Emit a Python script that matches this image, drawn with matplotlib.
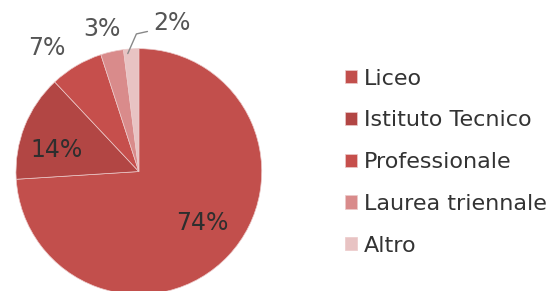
import numpy as np
import matplotlib
matplotlib.use("Agg")
from matplotlib import pyplot as plt

labels = ["Liceo", "Istituto Tecnico", "Professionale", "Laurea triennale", "Altro"]
values = [74, 14, 7, 3, 2]
colors = ["#c24f4c", "#b24644", "#c64f4c", "#d98b8b", "#e8c3c3"]
pct_text = ["74%", "14%", "7%", "3%", "2%"]

fig = plt.figure(figsize=(5.51, 2.91), dpi=100)
ax = fig.add_axes([0.029, -0.012, 0.446, 0.845])

wedges, _ = ax.pie(values, colors=colors, startangle=90, counterclock=False,
                   wedgeprops=dict(linewidth=0.5, edgecolor="#eccaca"))
ax.set_xlim(-1, 1)
ax.set_ylim(-1, 1)
ax.set_aspect("equal")

# label placement: radius and optional angle shift (deg)
dist = [0.665, 0.69, 1.25, 1.2, 1.24]
shift = [4.6, 7, 6, 2, -16]
tcol = ["#2e2e2e", "#2e2e2e", "#555555", "#555555", "#555555"]
for i, w in enumerate(wedges):
    ang = np.deg2rad((w.theta1 + w.theta2) / 2 + shift[i])
    x, y = dist[i] * np.cos(ang), dist[i] * np.sin(ang)
    ax.text(x, y, pct_text[i], ha="center", va="center", fontsize=17,
            color=tcol[i], clip_on=False)

# leader line for the small slice
w = wedges[4]
a0 = np.deg2rad((w.theta1 + w.theta2) / 2 - 3)
p0 = (0.99 * np.cos(a0), 0.99 * np.sin(a0))
ax.plot([p0[0] - 0.08, -0.02, 0.07], [p0[1] - 0.03, 1.12, 1.14],
        color="#888888", lw=1, clip_on=False, solid_capstyle="round")

leg = fig.legend(wedges, labels, loc="upper left", bbox_to_anchor=(0.61, 0.795),
                 frameon=False, fontsize=16, handlelength=0.55, handleheight=0.55,
                 handletextpad=0.3, labelspacing=0.98, borderaxespad=0)
for t in leg.get_texts():
    t.set_color("#333333")

fig.savefig("out.png", dpi=100)
